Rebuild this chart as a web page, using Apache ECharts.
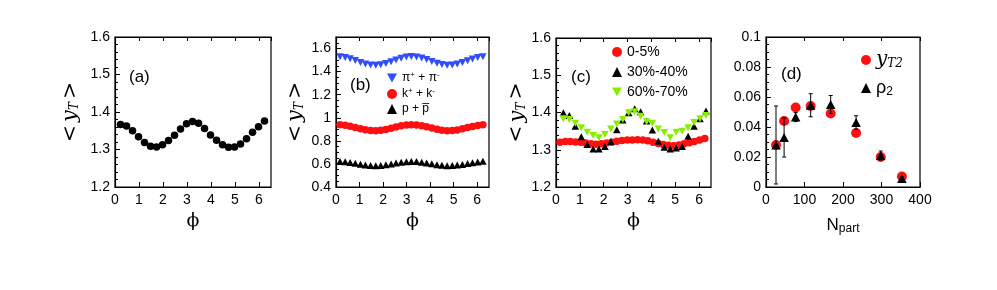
<!DOCTYPE html>
<html><head><meta charset="utf-8">
<script src="https://cdn.jsdelivr.net/npm/echarts@6/dist/echarts.min.js"></script>
<style>html,body{margin:0;padding:0;background:#fff}#c{width:997px;height:290px}</style>
</head><body><div id="c"></div>
<script>
// ---- data ----
const phiA = [0.23,0.48,0.73,0.98,1.23,1.48,1.73,1.98,2.23,2.48,2.73,2.98,3.23,3.48,3.73,3.98,4.23,4.48,4.73,4.98,5.23,5.48,5.73,5.98,6.23];
const ytA  = [1.367,1.363,1.350,1.334,1.319,1.309,1.307,1.313,1.324,1.338,1.355,1.369,1.375,1.370,1.356,1.339,1.325,1.313,1.306,1.307,1.315,1.329,1.346,1.361,1.376];

const phiB = [0.17,0.39,0.60,0.82,1.04,1.25,1.47,1.69,1.90,2.12,2.34,2.55,2.77,2.99,3.20,3.42,3.64,3.85,4.07,4.29,4.50,4.72,4.94,5.15,5.37,5.59,5.80,6.02,6.24];
const pionB   = [1.529,1.523,1.511,1.496,1.480,1.466,1.457,1.455,1.460,1.470,1.485,1.501,1.516,1.526,1.530,1.527,1.518,1.504,1.488,1.472,1.461,1.455,1.457,1.465,1.478,1.494,1.509,1.522,1.529];
const kaonB   = [0.940,0.935,0.927,0.916,0.905,0.896,0.890,0.888,0.891,0.899,0.909,0.920,0.930,0.937,0.940,0.938,0.931,0.922,0.911,0.900,0.892,0.888,0.889,0.895,0.904,0.915,0.925,0.934,0.939];
const protonB = [0.621,0.618,0.612,0.605,0.597,0.590,0.586,0.585,0.587,0.592,0.600,0.607,0.614,0.619,0.621,0.620,0.615,0.609,0.601,0.593,0.588,0.585,0.586,0.590,0.596,0.603,0.611,0.617,0.623];

const phiC0 = [0.17,0.39,0.60,0.82,1.04,1.25,1.47,1.69,1.90,2.12,2.34,2.55,2.77,2.99,3.20,3.42,3.64,3.85,4.07,4.29,4.50,4.72,4.94,5.15,5.37,5.59,5.80,6.02,6.24];
const cent0_5 = [1.320,1.322,1.322,1.321,1.320,1.318,1.316,1.315,1.316,1.318,1.320,1.323,1.325,1.326,1.326,1.327,1.326,1.324,1.320,1.317,1.314,1.312,1.311,1.313,1.316,1.319,1.322,1.326,1.330];
const phiC = [0.31,0.56,0.81,1.06,1.31,1.56,1.80,2.05,2.30,2.55,2.80,3.05,3.30,3.55,3.80,4.04,4.29,4.54,4.79,5.04,5.29,5.54,5.79,6.04,6.29];
const cent30_40 = [1.399,1.392,1.363,1.335,1.314,1.302,1.302,1.309,1.322,1.354,1.380,1.399,1.410,1.402,1.377,1.353,1.323,1.307,1.302,1.305,1.309,1.336,1.363,1.383,1.404];
const cent60_70 = [1.383,1.381,1.371,1.359,1.347,1.338,1.332,1.341,1.356,1.369,1.381,1.399,1.402,1.390,1.375,1.371,1.356,1.346,1.332,1.347,1.350,1.359,1.373,1.383,1.392];

const npart   = [26,47,77,116,168,234,298,353];
const yT2     = [0.028,0.044,0.053,0.054,0.049,0.036,0.020,0.007];
const rho2    = [0.028,0.033,0.0466,0.0545,0.055,0.043,0.021,0.0056];
const rho2Err = [0.026,0.013,0.003,0.0077,0.006,0.0045,0.003,0.001];

// ---- layout / style ----
const RED = '#ff1010', BLUE = '#2f4dff', GREEN = '#88ee00', BLK = '#000';
const SANS = 'Liberation Sans', SERIF = 'DejaVu Serif';
const DOWN = 'path://M0,0 L10,0 L5,9 Z';
const grids = [
  {left:115, top:37, width:156, height:150},
  {left:336, top:37, width:153, height:150},
  {left:556, top:38, width:155, height:149},
  {left:766, top:37, width:154, height:150}
];
const zip = (a,b) => a.map((v,i)=>[v,b[i]]);

function xBottom(g, min, max, interval, name, nameRich, gap){
  return {type:'value', gridIndex:g, position:'bottom', min, max, interval,
    axisLine:{show:true, onZero:false, lineStyle:{color:BLK, width:1.2}},
    axisTick:{show:true, inside:true, length:5, lineStyle:{color:BLK}},
    axisLabel:{show:true, showMaxLabel: max % interval === 0, color:BLK, fontFamily:SANS, fontSize:14, margin:6},
    splitLine:{show:false},
    name, nameLocation:'middle', nameGap:gap,
    nameTextStyle: nameRich};
}
function xTop(g, min, max, interval){
  return {type:'value', gridIndex:g, position:'top', min, max, interval,
    axisLine:{show:true, onZero:false, lineStyle:{color:BLK, width:1.2}},
    axisTick:{show:true, inside:true, length:4, lineStyle:{color:BLK}},
    axisLabel:{show:false}, splitLine:{show:false}};
}
const yName = '{l|<} {y|y}{s|T} {l|>}';
const yNameStyle = {color:BLK, rich:{
  l:{fontFamily:SERIF, fontSize:20, color:BLK},
  y:{fontFamily:SERIF, fontStyle:'italic', fontSize:21, color:BLK},
  s:{fontFamily:SERIF, fontStyle:'italic', fontSize:12, color:BLK, verticalAlign:'bottom', padding:[6,0,0,0]}
}};
function yLeft(g, min, max, interval, minorSplit, withName, gap){
  return {type:'value', gridIndex:g, min, max, interval,
    axisLine:{show:true, onZero:false, lineStyle:{color:BLK, width:1.2}},
    axisTick:{show:true, inside:true, length:5, lineStyle:{color:BLK}},
    minorTick:{show:true, splitNumber:minorSplit, length:3, lineStyle:{color:BLK}},
    axisLabel:{show:true, showMaxLabel: Math.abs(max/interval - Math.round(max/interval))<1e-9, color:BLK, fontFamily:SANS, fontSize:14, margin:5},
    splitLine:{show:false},
    name: withName ? yName : '', nameLocation:'middle', nameRotate:90, nameGap:gap,
    nameTextStyle: yNameStyle};
}
const phiStyle = {fontFamily:SERIF, fontSize:19, color:BLK};
const npStyle = {color:BLK, rich:{
  n:{fontFamily:SANS, fontSize:17, color:BLK},
  s:{fontFamily:SANS, fontSize:12, color:BLK, verticalAlign:'bottom', padding:[7,0,0,0]}
}};

const legendNames = {
  b_pi:'π{sup|+} + π{sup|-}', b_k:'k{sup|+} + k{sup|-}', b_p:'p + p\u0305',
  c_0:'0-5%', c_30:'30%-40%', c_60:'60%-70%',
  d_y:'{yi|y}{ys|T2}', d_rho:'{r|ρ}{rs|2}'
};
const legRich = {
  sup:{fontFamily:SANS, fontSize:8, color:BLK, verticalAlign:'top', padding:[0,0,6,0]},
  yi:{fontFamily:SERIF, fontStyle:'italic', fontSize:20, color:BLK},
  ys:{fontFamily:SERIF, fontStyle:'italic', fontSize:12, color:BLK, verticalAlign:'bottom', padding:[6,0,0,0]},
  r:{fontFamily:SANS, fontSize:18, color:BLK},
  rs:{fontFamily:SANS, fontSize:12, color:BLK, verticalAlign:'bottom', padding:[7,0,0,0]}
};
function legend(data, left, top, gap, fontSize, iw, ih){
  return {data, left, top, orient:'vertical', itemGap:gap, itemWidth:iw, itemHeight:ih,
    selectedMode:false, padding:0,
    formatter: n => legendNames[n],
    textStyle:{fontFamily:SANS, fontSize, color:BLK, rich:legRich}};
}

const option = {
  animation:false,
  backgroundColor:'#fff',
  grid: grids.map(g=>Object.assign({show:true, borderColor:BLK, borderWidth:1.2, backgroundColor:'transparent'}, g)),
  title: [
    {text:'(a)', left:129, top:69, padding:0, textStyle:{fontFamily:SANS, fontSize:17, fontWeight:'normal', color:BLK}},
    {text:'(b)', left:350, top:77, padding:0, textStyle:{fontFamily:SANS, fontSize:17, fontWeight:'normal', color:BLK}},
    {text:'(c)', left:571, top:69, padding:0, textStyle:{fontFamily:SANS, fontSize:17, fontWeight:'normal', color:BLK}},
    {text:'(d)', left:781, top:66, padding:0, textStyle:{fontFamily:SANS, fontSize:17, fontWeight:'normal', color:BLK}}
  ],
  legend: [
    legend([{name:'b_pi', icon:DOWN},'b_k','b_p'], 387, 71, 3, 12, 10, 10),
    legend(['c_0','c_30',{name:'c_60', icon:DOWN}], 612, 45, 6, 14, 10, 10),
    legend(['d_y','d_rho'], 861, 50, 9, 13, 10, 10)
  ],
  xAxis: [
    xBottom(0, 0, 6.5, 1, 'ϕ', phiStyle, 25),
    xBottom(1, 0, 6.5, 1, 'ϕ', phiStyle, 25),
    xBottom(2, 0, 6.5, 1, 'ϕ', phiStyle, 25),
    xBottom(3, 0, 400, 100, '{n|N}{s|part}', npStyle, 29),
    xTop(0, 0, 6.5, 1), xTop(1, 0, 6.5, 1), xTop(2, 0, 6.5, 1), xTop(3, 0, 400, 100)
  ],
  yAxis: [
    yLeft(0, 1.2, 1.6, 0.1, 5, true, 34),
    yLeft(1, 0.4, 1.7, 0.2, 4, true, 30),
    yLeft(2, 1.2, 1.6, 0.1, 5, true, 28),
    yLeft(3, 0, 0.1, 0.02, 4, false, 30)
  ],
  series: [
    {name:'a', type:'scatter', xAxisIndex:0, yAxisIndex:0, data:zip(phiA, ytA), symbol:'circle', symbolSize:7.5, itemStyle:{color:BLK, opacity:1}},

    {name:'b_pi', type:'scatter', xAxisIndex:1, yAxisIndex:1, data:zip(phiB, pionB), symbol:'triangle', symbolRotate:180, symbolSize:[7.5,7], itemStyle:{color:BLUE, opacity:1}},
    {name:'b_k', type:'scatter', xAxisIndex:1, yAxisIndex:1, data:zip(phiB, kaonB), symbol:'circle', symbolSize:7.5, itemStyle:{color:RED, opacity:1}},
    {name:'b_p', type:'scatter', xAxisIndex:1, yAxisIndex:1, data:zip(phiB, protonB), symbol:'triangle', symbolSize:[7.5,7], itemStyle:{color:BLK, opacity:1}},

    {name:'c_0', type:'scatter', xAxisIndex:2, yAxisIndex:2, data:zip(phiC0, cent0_5), symbol:'circle', symbolSize:7.5, itemStyle:{color:RED, opacity:1}},
    {name:'c_30', type:'scatter', xAxisIndex:2, yAxisIndex:2, data:zip(phiC, cent30_40), symbol:'triangle', symbolSize:[7.5,7], itemStyle:{color:BLK, opacity:1}, z:3},
    {name:'c_60', type:'scatter', xAxisIndex:2, yAxisIndex:2, data:zip(phiC, cent60_70), symbol:'triangle', symbolRotate:180, symbolSize:[7.5,7], itemStyle:{color:GREEN, opacity:1}, z:4},

    {name:'d_y', type:'scatter', xAxisIndex:3, yAxisIndex:3, data:zip(npart, yT2), symbol:'circle', symbolSize:10, itemStyle:{color:RED, opacity:1}},
    {name:'d_err', type:'custom', xAxisIndex:3, yAxisIndex:3, z:3,
      data: npart.map((n,i)=>[n, rho2[i], rho2Err[i]]),
      renderItem: (params, api) => {
        const x = api.value(0), y = api.value(1), e = api.value(2);
        const t = api.coord([x, y+e]), b = api.coord([x, y-e]);
        const w = 2, st = {stroke:BLK, lineWidth:1};
        return {type:'group', children:[
          {type:'line', shape:{x1:t[0], y1:t[1], x2:b[0], y2:b[1]}, style:st},
          {type:'line', shape:{x1:t[0]-w, y1:t[1], x2:t[0]+w, y2:t[1]}, style:st},
          {type:'line', shape:{x1:b[0]-w, y1:b[1], x2:b[0]+w, y2:b[1]}, style:st}
        ]};
      }},
    {name:'d_rho', type:'scatter', xAxisIndex:3, yAxisIndex:3, data:zip(npart, rho2), symbol:'triangle', symbolSize:[9.5,9], itemStyle:{color:BLK, opacity:1}, z:4}
  ]
};
const chart = echarts.init(document.getElementById('c'), null, {renderer:'canvas'});
chart.setOption(option);
</script></body></html>
